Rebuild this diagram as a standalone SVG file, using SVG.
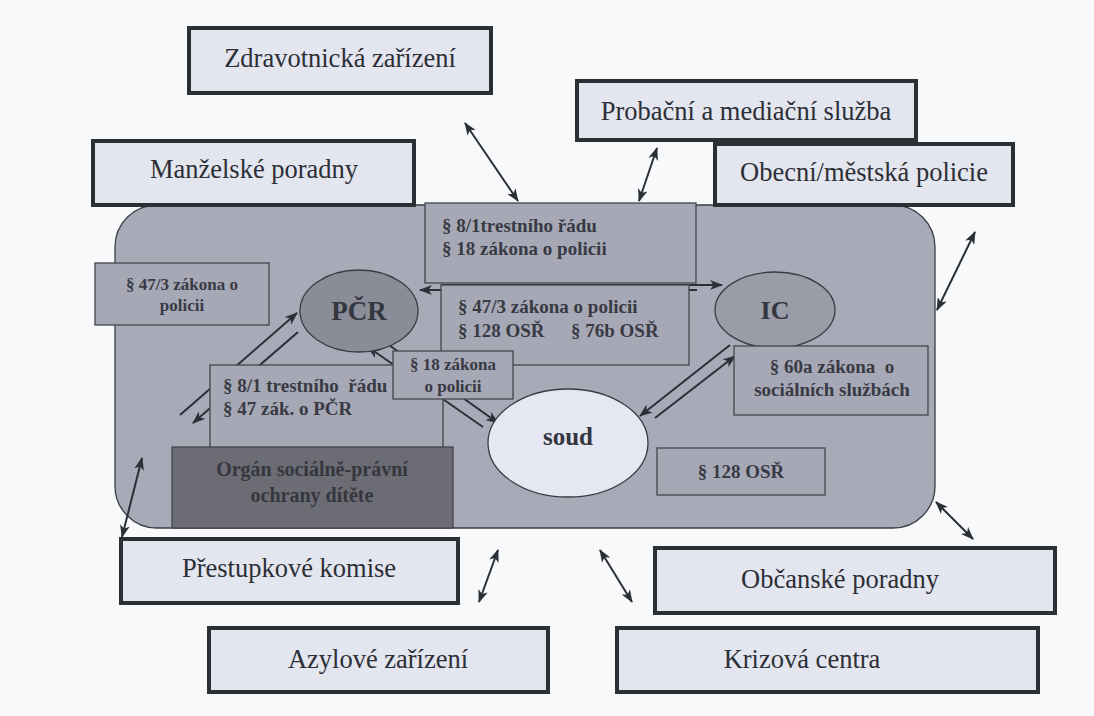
<svg xmlns="http://www.w3.org/2000/svg" width="1094" height="716" viewBox="0 0 1094 716">
<defs>
<style>
.ob{fill:#e3e5ef;stroke:#2a3034;stroke-width:4}
.ot{font-family:"Liberation Serif","Times New Roman",serif;font-size:26.5px;fill:#2c2f36;text-anchor:middle}
.ib{fill:#a6a8b5;stroke:#44464e;stroke-width:1.3}
.bt{font-family:"Liberation Serif","Times New Roman",serif;font-weight:bold;font-size:19px;fill:#383a44}
.st{font-family:"Liberation Serif","Times New Roman",serif;font-weight:bold;font-size:17px;fill:#383a44;text-anchor:middle}
.big{font-family:"Liberation Serif","Times New Roman",serif;font-weight:bold;fill:#34363f;text-anchor:middle}
.el{stroke:#3a3c44;stroke-width:1.3}
.cn{stroke:#2b2f38;stroke-width:2;fill:none}
.d{marker-start:url(#ah);marker-end:url(#ah)}
.s{marker-end:url(#ah)}
</style>
<marker id="ah" viewBox="0 0 13 10" refX="12" refY="5" markerWidth="13" markerHeight="10" markerUnits="userSpaceOnUse" orient="auto-start-reverse">
<path d="M0,0 L13,5 L0,10 L3.5,5 z" fill="#2b2f38"/>
</marker>
</defs>
<rect width="1094" height="716" fill="#f8f9fb"/>

<g id="system">
<rect x="115" y="205" width="820" height="323" rx="42" ry="42" fill="#a8aab7" stroke="#3a3c44" stroke-width="1.3"/>
</g>

<g id="connectors">
<line class="cn d" x1="465" y1="123" x2="518" y2="201"/>
<line class="cn d" x1="657" y1="148" x2="639" y2="201"/>
<line class="cn d" x1="975" y1="232" x2="937" y2="310"/>
<line class="cn d" x1="936" y1="502" x2="973" y2="539"/>
<line class="cn d" x1="142" y1="458" x2="122" y2="537"/>
<line class="cn d" x1="498" y1="550" x2="479" y2="602"/>
<line class="cn d" x1="600" y1="550" x2="632" y2="602"/>
<line class="cn s" x1="180" y1="415" x2="297" y2="313"/>
<line class="cn s" x1="298" y1="332" x2="193" y2="423"/>
<line class="cn s" x1="483" y1="427" x2="368" y2="347"/>
<line class="cn s" x1="382" y1="340" x2="498" y2="423"/>
<line class="cn s" x1="730" y1="345" x2="640" y2="416"/>
<line class="cn s" x1="655" y1="418" x2="735" y2="356"/>
<line class="cn s" x1="697" y1="290" x2="420" y2="290"/>
<line class="cn s" x1="441" y1="285" x2="722" y2="285"/>
</g>

<g id="zdravotnicka">
<rect class="ob" x="189" y="28" width="302" height="65"/>
<text class="ot" x="340" y="67">Zdravotnická zařízení</text>
</g>
<g id="manzelske">
<rect class="ob" x="93" y="141" width="321" height="64"/>
<text class="ot" x="254" y="178">Manželské poradny</text>
</g>
<g id="probacni">
<rect class="ob" x="577" y="81" width="339" height="59"/>
<text class="ot" x="746" y="120">Probační a mediační služba</text>
</g>
<g id="obecni">
<rect class="ob" x="715" y="144" width="298" height="61"/>
<text class="ot" x="864" y="181">Obecní/městská policie</text>
</g>

<g id="box-8-1-top">
<rect class="ib" x="425" y="203" width="271" height="80"/>
<text class="bt" x="442" y="232">§ 8/1trestního řádu</text>
<text class="bt" x="442" y="255">§ 18 zákona o policii</text>
</g>
<g id="box-47-3-mid">
<rect class="ib" x="441" y="285" width="248" height="80"/>
<text class="bt" x="458" y="313">§ 47/3 zákona o policii</text>
<text class="bt" x="458" y="337">§ 128 OSŘ</text>
<text class="bt" x="571" y="337">§ 76b OSŘ</text>
</g>
<g id="box-47-3-left">
<rect class="ib" x="95" y="263" width="174" height="62"/>
<text class="st" x="182" y="290">§ 47/3 zákona o</text>
<text class="st" x="182" y="311">policii</text>
</g>
<g id="box-8-1-left">
<rect class="ib" x="210" y="365" width="233" height="90"/>
<text class="bt" x="223" y="392" xml:space="preserve">§ 8/1 trestního  řádu</text>
<text class="bt" x="223" y="415">§ 47 zák. o PČR</text>
</g>
<g id="pcr">
<ellipse class="el" cx="359" cy="311" rx="59" ry="41" fill="#8a8c98"/>
<text class="big" x="359" y="320" style="font-size:27px">PČR</text>
</g>
<g id="box-18">
<rect class="ib" x="393" y="351" width="120" height="48"/>
<text class="st" x="453" y="370">§ 18 zákona</text>
<text class="st" x="453" y="392">o policii</text>
</g>
<g id="ic">
<ellipse class="el" cx="775" cy="310" rx="60" ry="38" fill="#9a9ca8"/>
<text class="big" x="775" y="319" style="font-size:26px">IC</text>
</g>
<g id="box-60a">
<rect class="ib" x="734" y="346" width="194" height="69"/>
<text class="bt" x="832" y="373" text-anchor="middle" xml:space="preserve">§ 60a zákona  o</text>
<text class="bt" x="832" y="396" text-anchor="middle">sociálních službách</text>
</g>
<g id="soud">
<ellipse class="el" cx="568" cy="443" rx="80" ry="54" fill="#e5e7f2"/>
<text class="big" x="568" y="445" style="font-size:25px">soud</text>
</g>
<g id="box-128">
<rect class="ib" x="657" y="448" width="168" height="47"/>
<text class="bt" x="741" y="478" text-anchor="middle">§ 128 OSŘ</text>
</g>
<g id="organ">
<rect x="172" y="447" width="281" height="81" fill="#6b6c74" stroke="#44464e" stroke-width="1.3"/>
<text class="big" x="312" y="476" style="font-size:20px;fill:#36373e">Orgán sociálně-právní</text>
<text class="big" x="312" y="502" style="font-size:20px;fill:#36373e">ochrany dítěte</text>
</g>

<g id="prestupkove">
<rect class="ob" x="121" y="539" width="337" height="64"/>
<text class="ot" x="289" y="577">Přestupkové komise</text>
</g>
<g id="obcanske">
<rect class="ob" x="655" y="548" width="400" height="65"/>
<text class="ot" x="840" y="588">Občanské poradny</text>
</g>
<g id="azylove">
<rect class="ob" x="209" y="628" width="339" height="64"/>
<text class="ot" x="378" y="668">Azylové zařízení</text>
</g>
<g id="krizova">
<rect class="ob" x="617" y="628" width="421" height="64"/>
<text class="ot" x="802" y="668">Krizová centra</text>
</g>
</svg>
